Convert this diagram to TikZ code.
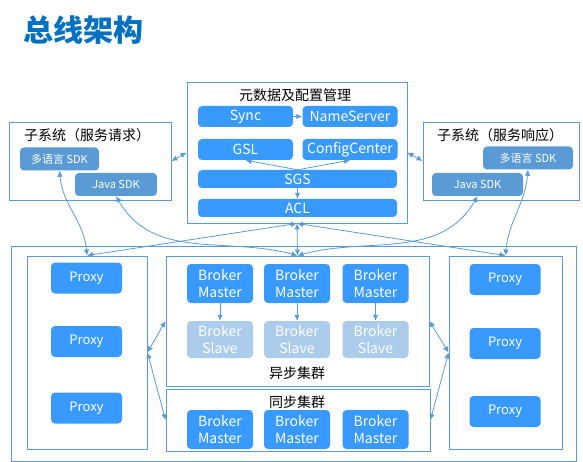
\documentclass[tikz,border=0pt]{standalone}
\usepackage{fontspec}
\setmainfont{Noto Sans CJK SC}
\usetikzlibrary{arrows.meta}
\definecolor{nodeblue}{RGB}{56,154,255}
\definecolor{sdkblue}{RGB}{91,155,213}
\definecolor{slaveblue}{RGB}{172,204,235}
\definecolor{lineblue}{RGB}{91,155,213}
\definecolor{titleblue}{RGB}{0,112,192}

\begin{document}
\begin{tikzpicture}[x=1pt, y=-1pt, >={Latex[length=6pt,width=5.5pt]},
  frame/.style={draw=lineblue, line width=0.9pt, inner sep=0pt},
  blk/.style={fill=nodeblue, rounded corners=4pt, text=white, inner sep=0pt, align=center, font=\fontsize{14}{17}\selectfont},
  metablk/.style={blk, minimum width=95pt, minimum height=21pt},
  wideblk/.style={blk, minimum width=199pt, minimum height=18pt},
  broker/.style={blk, minimum width=66pt, minimum height=39pt},
  slave/.style={broker, fill=slaveblue, minimum height=37pt},
  proxy/.style={blk, minimum width=71pt, minimum height=31pt, font=\fontsize{13}{15}\selectfont},
  sdk/.style={blk, fill=sdkblue, minimum height=23pt, font=\fontsize{11}{13}\selectfont},
  lbl/.style={font=\fontsize{14}{17}\selectfont, inner sep=0pt},
  link/.style={draw=lineblue, line width=0.8pt}]
  \useasboundingbox (0,0) rectangle (583,462);
  \node[anchor=west, text=titleblue, font=\fontsize{30}{34}\bfseries\selectfont] (title) at (20,30) {总线架构};

  % containers
  \node[frame, minimum width=220pt, minimum height=141pt] (meta) at (297,152.5) {};
  \node[frame, minimum width=162pt, minimum height=78pt] (lsub) at (90,161) {};
  \node[frame, minimum width=156pt, minimum height=78pt] (rsub) at (501,161) {};
  \node[frame, minimum width=565pt, minimum height=215pt] (bus) at (293.5,353.5) {};
  \node[frame, minimum width=120pt, minimum height=193pt] (lpx) at (87,352.5) {};
  \node[frame, minimum width=113pt, minimum height=193pt] (rpx) at (505.5,352.5) {};
  \node[frame, minimum width=263pt, minimum height=130pt] (async) at (297.5,321) {};
  \node[frame, minimum width=264pt, minimum height=62pt] (sync) at (298,420) {};

  \node[lbl] (metat) at (295,95) {元数据及配置管理};
  \node[lbl] (lsubt) at (87,135) {子系统（服务请求）};
  \node[lbl] (rsubt) at (500,135) {子系统（服务响应）};
  \node[lbl] (asynct) at (297,373) {异步集群};
  \node[lbl] (synct) at (297,402) {同步集群};

  \node[metablk] (syn) at (245.5,116.5) {Sync};
  \node[metablk] (ns) at (350,116.5) {NameServer};
  \node[metablk] (gsl) at (245.5,149.5) {GSL};
  \node[metablk] (cc) at (350,149.5) {ConfigCenter};
  \node[wideblk] (sgs) at (297.5,179) {SGS};
  \node[wideblk] (acl) at (297.5,208) {ACL};

  \node[sdk, minimum width=79pt] (lmulti) at (59.5,159) {多语言 SDK};
  \node[sdk, minimum width=82pt] (ljava) at (116,184.5) {Java SDK};
  \node[sdk, minimum width=90pt] (rmulti) at (528,158) {多语言 SDK};
  \node[sdk, minimum width=91pt] (rjava) at (477.5,184.5) {Java SDK};

  \foreach \i/\y in {1/278,2/341.5,3/408} \node[proxy] (lp\i) at (86.5,\y) {Proxy};
  \foreach \i/\y in {1/279.5,2/343.5,3/411.5} \node[proxy] (rp\i) at (505,\y) {Proxy};
  \foreach \i/\x in {1/220,2/297,3/375.5} {
    \node[broker] (am\i) at (\x,283.5) {Broker\\Master};
    \node[slave] (as\i) at (\x,339.5) {Broker\\Slave};
    \node[broker] (sm\i) at (\x,429.5) {Broker\\Master};
    \draw[link,->] (am\i) -- (as\i);
  }

  \draw[link,->] (syn) -- (ns);
  \draw[link,->] (sgs.north) -- (gsl.south);
  \draw[link,->] (sgs.north) -- (cc.south);
  \draw[link,->] (sgs) -- (acl);

  \draw[link,<->] (lsub.east) -- (meta.west);
  \draw[link,<->] (meta.east) -- (rsub.west);
  \draw[link,<->] (lmulti.south) to[out=-85,in=95] (lpx.north);
  \draw[link,<->] (ljava.south) to[out=-60,in=165] (async.north);
  \draw[link,<->] (lpx.north) -- (meta.south);
  \draw[link,<->] (meta.south) -- (async.north);
  \draw[link,<->] (rpx.north) -- (meta.south);
  \draw[link,<->] (rjava.south) to[out=-120,in=15] (async.north);
  \draw[link,<->] (rmulti.south) to[out=-95,in=85] (rpx.north);
  \draw[link,<->] (lpx.east) -- (async.west);
  \draw[link,<->] (lpx.east) -- (sync.west);
  \draw[link,<->] (rpx.west) -- (async.east);
  \draw[link,<->] (rpx.west) -- (sync.east);
\end{tikzpicture}
\end{document}
